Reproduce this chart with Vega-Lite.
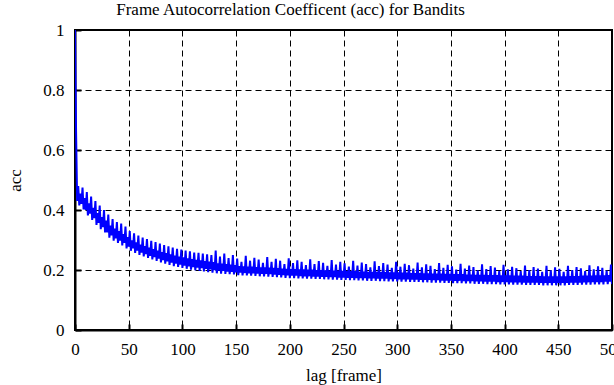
{
"$schema": "https://vega.github.io/schema/vega-lite/v6.json",
"autosize": "none",
"width": 537,
"height": 300,
"padding": {"left": 75, "top": 30, "right": 2, "bottom": 55},
"background": "white",
"title": {"text": "Frame Autocorrelation Coefficent (acc) for Bandits", "font": "Liberation Serif", "fontSize": 17, "fontWeight": "normal", "color": "black", "offset": 2, "dx": -53},
"config": {
"view": {"stroke": "black", "strokeWidth": 2},
"text": {"font": "Liberation Serif"},
"axis": {"labelFont": "Liberation Serif", "titleFont": "Liberation Serif", "labelFontSize": 17, "titleFontSize": 17, "titleFontWeight": "normal", "labelColor": "black", "titleColor": "black", "domainColor": "black", "domainWidth": 2, "tickColor": "black", "tickWidth": 2, "tickSize": -6, "gridColor": "black", "gridDash": [6, 4], "gridWidth": 1, "gridOpacity": 1}
},
"data": {"values": [
{"lag":0,"acc":1.0},{"lag":1,"acc":0.66},{"lag":2,"acc":0.43},{"lag":3,"acc":0.48},{"lag":4,"acc":0.415},{"lag":5,"acc":0.455},{"lag":6,"acc":0.42},{"lag":7,"acc":0.475},{"lag":8,"acc":0.402},{"lag":9,"acc":0.44},{"lag":10,"acc":0.40},
{"lag":11,"acc":0.46},{"lag":12,"acc":0.382},{"lag":13,"acc":0.422},{"lag":14,"acc":0.388},{"lag":15,"acc":0.445},{"lag":16,"acc":0.367},{"lag":17,"acc":0.407},{"lag":18,"acc":0.373},{"lag":19,"acc":0.43},{"lag":20,"acc":0.35},
{"lag":21,"acc":0.39},{"lag":22,"acc":0.357},{"lag":23,"acc":0.415},{"lag":24,"acc":0.336},{"lag":25,"acc":0.376},{"lag":26,"acc":0.343},{"lag":27,"acc":0.40},{"lag":28,"acc":0.325},{"lag":29,"acc":0.365},{"lag":30,"acc":0.325},
{"lag":31,"acc":0.385},{"lag":32,"acc":0.308},{"lag":33,"acc":0.348},{"lag":34,"acc":0.315},{"lag":35,"acc":0.37},{"lag":36,"acc":0.298},{"lag":37,"acc":0.338},{"lag":38,"acc":0.305},{"lag":39,"acc":0.36},{"lag":40,"acc":0.29},
{"lag":41,"acc":0.33},{"lag":42,"acc":0.298},{"lag":43,"acc":0.355},{"lag":44,"acc":0.282},{"lag":45,"acc":0.32},{"lag":46,"acc":0.29},{"lag":47,"acc":0.345},{"lag":48,"acc":0.272},{"lag":49,"acc":0.31},{"lag":50,"acc":0.278},
{"lag":51,"acc":0.33},{"lag":52,"acc":0.264},{"lag":53,"acc":0.299},{"lag":54,"acc":0.272},{"lag":55,"acc":0.322},{"lag":56,"acc":0.257},{"lag":57,"acc":0.292},{"lag":58,"acc":0.265},{"lag":59,"acc":0.315},{"lag":60,"acc":0.25},
{"lag":61,"acc":0.285},{"lag":62,"acc":0.258},{"lag":63,"acc":0.308},{"lag":64,"acc":0.245},{"lag":65,"acc":0.28},{"lag":66,"acc":0.253},{"lag":67,"acc":0.303},{"lag":68,"acc":0.24},{"lag":69,"acc":0.275},{"lag":70,"acc":0.247},
{"lag":71,"acc":0.297},{"lag":72,"acc":0.235},{"lag":73,"acc":0.27},{"lag":74,"acc":0.243},{"lag":75,"acc":0.293},{"lag":76,"acc":0.23},{"lag":77,"acc":0.265},{"lag":78,"acc":0.238},{"lag":79,"acc":0.288},{"lag":80,"acc":0.225},
{"lag":81,"acc":0.26},{"lag":82,"acc":0.233},{"lag":83,"acc":0.283},{"lag":84,"acc":0.221},{"lag":85,"acc":0.256},{"lag":86,"acc":0.229},{"lag":87,"acc":0.279},{"lag":88,"acc":0.217},{"lag":89,"acc":0.252},{"lag":90,"acc":0.225},
{"lag":91,"acc":0.275},{"lag":92,"acc":0.213},{"lag":93,"acc":0.248},{"lag":94,"acc":0.221},{"lag":95,"acc":0.271},{"lag":96,"acc":0.21},{"lag":97,"acc":0.245},{"lag":98,"acc":0.218},{"lag":99,"acc":0.268},{"lag":100,"acc":0.207},
{"lag":101,"acc":0.242},{"lag":102,"acc":0.215},{"lag":103,"acc":0.265},{"lag":104,"acc":0.204},{"lag":105,"acc":0.239},{"lag":106,"acc":0.212},{"lag":107,"acc":0.262},{"lag":108,"acc":0.201},{"lag":109,"acc":0.236},{"lag":110,"acc":0.21},
{"lag":111,"acc":0.258},{"lag":112,"acc":0.199},{"lag":113,"acc":0.234},{"lag":114,"acc":0.208},{"lag":115,"acc":0.257},{"lag":116,"acc":0.197},{"lag":117,"acc":0.232},{"lag":118,"acc":0.206},{"lag":119,"acc":0.255},{"lag":120,"acc":0.195},
{"lag":121,"acc":0.23},{"lag":122,"acc":0.204},{"lag":123,"acc":0.252},{"lag":124,"acc":0.193},{"lag":125,"acc":0.228},{"lag":126,"acc":0.202},{"lag":127,"acc":0.25},{"lag":128,"acc":0.191},{"lag":129,"acc":0.226},{"lag":130,"acc":0.20},
{"lag":131,"acc":0.265},{"lag":132,"acc":0.189},{"lag":133,"acc":0.222},{"lag":134,"acc":0.198},{"lag":135,"acc":0.245},{"lag":136,"acc":0.188},{"lag":137,"acc":0.221},{"lag":138,"acc":0.197},{"lag":139,"acc":0.255},{"lag":140,"acc":0.187},
{"lag":141,"acc":0.22},{"lag":142,"acc":0.195},{"lag":143,"acc":0.24},{"lag":144,"acc":0.186},{"lag":145,"acc":0.218},{"lag":146,"acc":0.194},{"lag":147,"acc":0.25},{"lag":148,"acc":0.185},{"lag":149,"acc":0.216},{"lag":150,"acc":0.192},
{"lag":151,"acc":0.238},{"lag":152,"acc":0.183},{"lag":153,"acc":0.213},{"lag":154,"acc":0.191},{"lag":155,"acc":0.227},{"lag":156,"acc":0.182},{"lag":157,"acc":0.212},{"lag":158,"acc":0.19},{"lag":159,"acc":0.247},{"lag":160,"acc":0.182},
{"lag":161,"acc":0.211},{"lag":162,"acc":0.189},{"lag":163,"acc":0.231},{"lag":164,"acc":0.181},{"lag":165,"acc":0.211},{"lag":166,"acc":0.189},{"lag":167,"acc":0.241},{"lag":168,"acc":0.18},{"lag":169,"acc":0.21},{"lag":170,"acc":0.188},
{"lag":171,"acc":0.235},{"lag":172,"acc":0.179},{"lag":173,"acc":0.209},{"lag":174,"acc":0.187},{"lag":175,"acc":0.224},{"lag":176,"acc":0.179},{"lag":177,"acc":0.209},{"lag":178,"acc":0.187},{"lag":179,"acc":0.243},{"lag":180,"acc":0.178},
{"lag":181,"acc":0.208},{"lag":182,"acc":0.186},{"lag":183,"acc":0.227},{"lag":184,"acc":0.177},{"lag":185,"acc":0.207},{"lag":186,"acc":0.185},{"lag":187,"acc":0.237},{"lag":188,"acc":0.176},{"lag":189,"acc":0.206},{"lag":190,"acc":0.184},
{"lag":191,"acc":0.231},{"lag":192,"acc":0.175},{"lag":193,"acc":0.205},{"lag":194,"acc":0.183},{"lag":195,"acc":0.22},{"lag":196,"acc":0.174},{"lag":197,"acc":0.204},{"lag":198,"acc":0.182},{"lag":199,"acc":0.239},{"lag":200,"acc":0.173},
{"lag":201,"acc":0.203},{"lag":202,"acc":0.181},{"lag":203,"acc":0.223},{"lag":204,"acc":0.173},{"lag":205,"acc":0.203},{"lag":206,"acc":0.181},{"lag":207,"acc":0.232},{"lag":208,"acc":0.172},{"lag":209,"acc":0.202},{"lag":210,"acc":0.18},
{"lag":211,"acc":0.227},{"lag":212,"acc":0.172},{"lag":213,"acc":0.202},{"lag":214,"acc":0.179},{"lag":215,"acc":0.216},{"lag":216,"acc":0.171},{"lag":217,"acc":0.201},{"lag":218,"acc":0.179},{"lag":219,"acc":0.236},{"lag":220,"acc":0.171},
{"lag":221,"acc":0.201},{"lag":222,"acc":0.178},{"lag":223,"acc":0.22},{"lag":224,"acc":0.17},{"lag":225,"acc":0.2},{"lag":226,"acc":0.178},{"lag":227,"acc":0.23},{"lag":228,"acc":0.17},{"lag":229,"acc":0.2},{"lag":230,"acc":0.177},
{"lag":231,"acc":0.224},{"lag":232,"acc":0.169},{"lag":233,"acc":0.199},{"lag":234,"acc":0.177},{"lag":235,"acc":0.214},{"lag":236,"acc":0.169},{"lag":237,"acc":0.199},{"lag":238,"acc":0.176},{"lag":239,"acc":0.233},{"lag":240,"acc":0.168},
{"lag":241,"acc":0.198},{"lag":242,"acc":0.176},{"lag":243,"acc":0.218},{"lag":244,"acc":0.168},{"lag":245,"acc":0.198},{"lag":246,"acc":0.175},{"lag":247,"acc":0.227},{"lag":248,"acc":0.167},{"lag":249,"acc":0.197},{"lag":250,"acc":0.175},
{"lag":251,"acc":0.222},{"lag":252,"acc":0.167},{"lag":253,"acc":0.197},{"lag":254,"acc":0.174},{"lag":255,"acc":0.211},{"lag":256,"acc":0.166},{"lag":257,"acc":0.196},{"lag":258,"acc":0.174},{"lag":259,"acc":0.231},{"lag":260,"acc":0.166},
{"lag":261,"acc":0.196},{"lag":262,"acc":0.173},{"lag":263,"acc":0.215},{"lag":264,"acc":0.165},{"lag":265,"acc":0.195},{"lag":266,"acc":0.173},{"lag":267,"acc":0.225},{"lag":268,"acc":0.165},{"lag":269,"acc":0.195},{"lag":270,"acc":0.173},
{"lag":271,"acc":0.22},{"lag":272,"acc":0.164},{"lag":273,"acc":0.194},{"lag":274,"acc":0.172},{"lag":275,"acc":0.209},{"lag":276,"acc":0.164},{"lag":277,"acc":0.194},{"lag":278,"acc":0.172},{"lag":279,"acc":0.229},{"lag":280,"acc":0.164},
{"lag":281,"acc":0.194},{"lag":282,"acc":0.171},{"lag":283,"acc":0.213},{"lag":284,"acc":0.163},{"lag":285,"acc":0.193},{"lag":286,"acc":0.171},{"lag":287,"acc":0.223},{"lag":288,"acc":0.163},{"lag":289,"acc":0.193},{"lag":290,"acc":0.171},
{"lag":291,"acc":0.218},{"lag":292,"acc":0.162},{"lag":293,"acc":0.192},{"lag":294,"acc":0.17},{"lag":295,"acc":0.207},{"lag":296,"acc":0.162},{"lag":297,"acc":0.192},{"lag":298,"acc":0.17},{"lag":299,"acc":0.227},{"lag":300,"acc":0.162},
{"lag":301,"acc":0.192},{"lag":302,"acc":0.169},{"lag":303,"acc":0.211},{"lag":304,"acc":0.161},{"lag":305,"acc":0.191},{"lag":306,"acc":0.169},{"lag":307,"acc":0.221},{"lag":308,"acc":0.161},{"lag":309,"acc":0.191},{"lag":310,"acc":0.169},
{"lag":311,"acc":0.216},{"lag":312,"acc":0.16},{"lag":313,"acc":0.19},{"lag":314,"acc":0.168},{"lag":315,"acc":0.205},{"lag":316,"acc":0.16},{"lag":317,"acc":0.19},{"lag":318,"acc":0.168},{"lag":319,"acc":0.225},{"lag":320,"acc":0.16},
{"lag":321,"acc":0.19},{"lag":322,"acc":0.167},{"lag":323,"acc":0.209},{"lag":324,"acc":0.159},{"lag":325,"acc":0.189},{"lag":326,"acc":0.167},{"lag":327,"acc":0.219},{"lag":328,"acc":0.159},{"lag":329,"acc":0.189},{"lag":330,"acc":0.167},
{"lag":331,"acc":0.214},{"lag":332,"acc":0.158},{"lag":333,"acc":0.188},{"lag":334,"acc":0.166},{"lag":335,"acc":0.203},{"lag":336,"acc":0.158},{"lag":337,"acc":0.188},{"lag":338,"acc":0.166},{"lag":339,"acc":0.223},{"lag":340,"acc":0.158},
{"lag":341,"acc":0.188},{"lag":342,"acc":0.165},{"lag":343,"acc":0.207},{"lag":344,"acc":0.157},{"lag":345,"acc":0.187},{"lag":346,"acc":0.165},{"lag":347,"acc":0.217},{"lag":348,"acc":0.157},{"lag":349,"acc":0.187},{"lag":350,"acc":0.165},
{"lag":351,"acc":0.212},{"lag":352,"acc":0.156},{"lag":353,"acc":0.186},{"lag":354,"acc":0.164},{"lag":355,"acc":0.201},{"lag":356,"acc":0.156},{"lag":357,"acc":0.186},{"lag":358,"acc":0.164},{"lag":359,"acc":0.221},{"lag":360,"acc":0.156},
{"lag":361,"acc":0.186},{"lag":362,"acc":0.163},{"lag":363,"acc":0.205},{"lag":364,"acc":0.155},{"lag":365,"acc":0.185},{"lag":366,"acc":0.163},{"lag":367,"acc":0.215},{"lag":368,"acc":0.155},{"lag":369,"acc":0.185},{"lag":370,"acc":0.163},
{"lag":371,"acc":0.21},{"lag":372,"acc":0.154},{"lag":373,"acc":0.184},{"lag":374,"acc":0.162},{"lag":375,"acc":0.199},{"lag":376,"acc":0.154},{"lag":377,"acc":0.184},{"lag":378,"acc":0.162},{"lag":379,"acc":0.219},{"lag":380,"acc":0.154},
{"lag":381,"acc":0.184},{"lag":382,"acc":0.161},{"lag":383,"acc":0.203},{"lag":384,"acc":0.153},{"lag":385,"acc":0.183},{"lag":386,"acc":0.161},{"lag":387,"acc":0.213},{"lag":388,"acc":0.153},{"lag":389,"acc":0.183},{"lag":390,"acc":0.161},
{"lag":391,"acc":0.208},{"lag":392,"acc":0.153},{"lag":393,"acc":0.183},{"lag":394,"acc":0.16},{"lag":395,"acc":0.197},{"lag":396,"acc":0.152},{"lag":397,"acc":0.182},{"lag":398,"acc":0.16},{"lag":399,"acc":0.217},{"lag":400,"acc":0.152},
{"lag":401,"acc":0.182},{"lag":402,"acc":0.16},{"lag":403,"acc":0.202},{"lag":404,"acc":0.152},{"lag":405,"acc":0.182},{"lag":406,"acc":0.159},{"lag":407,"acc":0.211},{"lag":408,"acc":0.151},{"lag":409,"acc":0.181},{"lag":410,"acc":0.159},
{"lag":411,"acc":0.206},{"lag":412,"acc":0.151},{"lag":413,"acc":0.181},{"lag":414,"acc":0.159},{"lag":415,"acc":0.196},{"lag":416,"acc":0.151},{"lag":417,"acc":0.181},{"lag":418,"acc":0.158},{"lag":419,"acc":0.215},{"lag":420,"acc":0.15},
{"lag":421,"acc":0.18},{"lag":422,"acc":0.158},{"lag":423,"acc":0.2},{"lag":424,"acc":0.15},{"lag":425,"acc":0.18},{"lag":426,"acc":0.158},{"lag":427,"acc":0.21},{"lag":428,"acc":0.15},{"lag":429,"acc":0.18},{"lag":430,"acc":0.158},
{"lag":431,"acc":0.205},{"lag":432,"acc":0.15},{"lag":433,"acc":0.18},{"lag":434,"acc":0.157},{"lag":435,"acc":0.194},{"lag":436,"acc":0.149},{"lag":437,"acc":0.179},{"lag":438,"acc":0.157},{"lag":439,"acc":0.214},{"lag":440,"acc":0.149},
{"lag":441,"acc":0.179},{"lag":442,"acc":0.157},{"lag":443,"acc":0.199},{"lag":444,"acc":0.149},{"lag":445,"acc":0.179},{"lag":446,"acc":0.157},{"lag":447,"acc":0.209},{"lag":448,"acc":0.149},{"lag":449,"acc":0.179},{"lag":450,"acc":0.157},
{"lag":451,"acc":0.204},{"lag":452,"acc":0.149},{"lag":453,"acc":0.179},{"lag":454,"acc":0.157},{"lag":455,"acc":0.194},{"lag":456,"acc":0.149},{"lag":457,"acc":0.179},{"lag":458,"acc":0.157},{"lag":459,"acc":0.214},{"lag":460,"acc":0.15},
{"lag":461,"acc":0.18},{"lag":462,"acc":0.158},{"lag":463,"acc":0.2},{"lag":464,"acc":0.15},{"lag":465,"acc":0.18},{"lag":466,"acc":0.158},{"lag":467,"acc":0.21},{"lag":468,"acc":0.15},{"lag":469,"acc":0.18},{"lag":470,"acc":0.158},
{"lag":471,"acc":0.206},{"lag":472,"acc":0.151},{"lag":473,"acc":0.181},{"lag":474,"acc":0.159},{"lag":475,"acc":0.196},{"lag":476,"acc":0.151},{"lag":477,"acc":0.181},{"lag":478,"acc":0.159},{"lag":479,"acc":0.216},{"lag":480,"acc":0.151},
{"lag":481,"acc":0.181},{"lag":482,"acc":0.16},{"lag":483,"acc":0.202},{"lag":484,"acc":0.152},{"lag":485,"acc":0.182},{"lag":486,"acc":0.16},{"lag":487,"acc":0.212},{"lag":488,"acc":0.152},{"lag":489,"acc":0.182},{"lag":490,"acc":0.16},
{"lag":491,"acc":0.207},{"lag":492,"acc":0.152},{"lag":493,"acc":0.182},{"lag":494,"acc":0.161},{"lag":495,"acc":0.198},{"lag":496,"acc":0.153},{"lag":497,"acc":0.183},{"lag":498,"acc":0.161},{"lag":499,"acc":0.218},{"lag":500,"acc":0.153}
]},
"mark": {"type": "line", "color": "#0000ff", "strokeWidth": 2, "clip": true},
"encoding": {
"x": {"field": "lag", "type": "quantitative", "scale": {"domain": [0, 500], "nice": false, "zero": false}, "axis": {"title": "lag [frame]", "values": [0,50,100,150,200,250,300,350,400,450,500], "format": "d", "labelFont": "Liberation Serif", "titleFont": "Liberation Serif", "labelFontSize": 17, "titleFontSize": 17, "labelPadding": 17, "titlePadding": 10, "labelFlush": false}},
"y": {"field": "acc", "type": "quantitative", "scale": {"domain": [0, 1], "nice": false}, "axis": {"title": "acc", "values": [0,0.2,0.4,0.6,0.8,1], "format": "~g", "labelFont": "Liberation Serif", "titleFont": "Liberation Serif", "labelFontSize": 17, "titleFontSize": 17, "labelPadding": 17, "titlePadding": 18}}
}
}
